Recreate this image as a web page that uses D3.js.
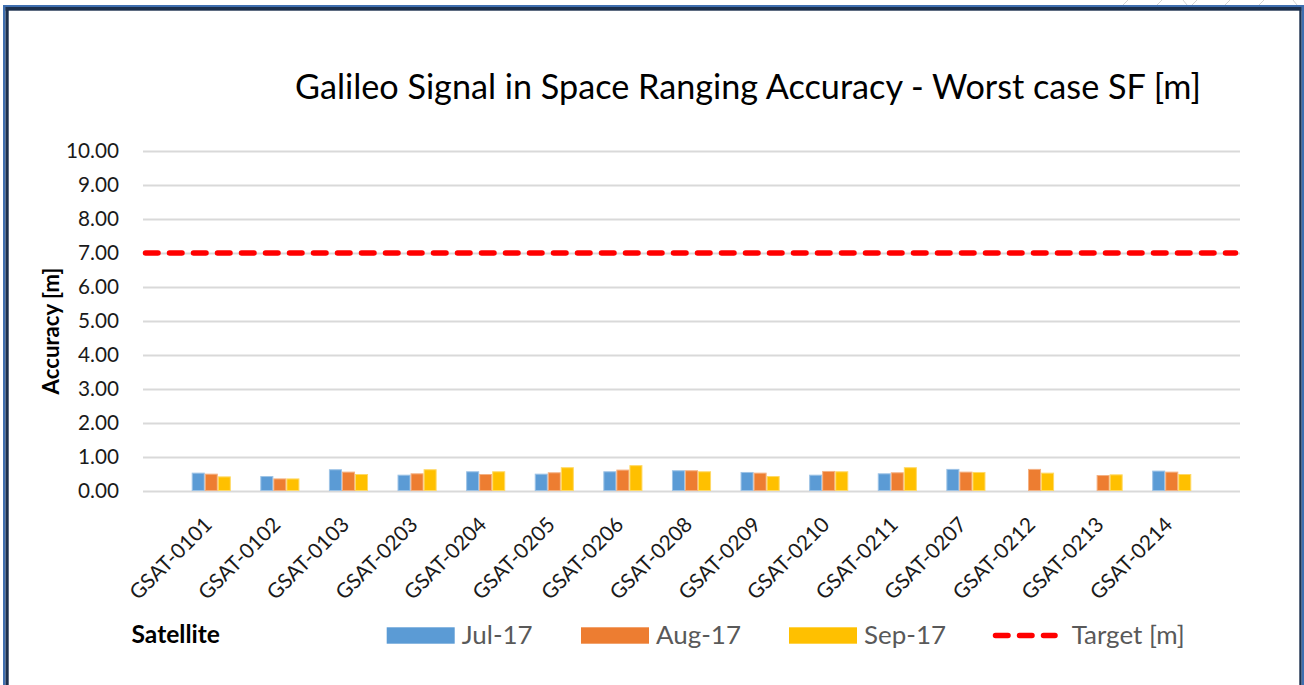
<!DOCTYPE html>
<html>
<head>
<meta charset="utf-8">
<script src="https://cdn.jsdelivr.net/npm/d3@7"></script>
<style>
  html, body { margin: 0; padding: 0; background: #ffffff; }
  svg { display: block; }
  text { font-family: Lato, "Open Sans", sans-serif; }
</style>
</head>
<body>
<svg id="chart" width="1304" height="685"></svg>
<script>
// ---------------- data ----------------
const categories = ["GSAT-0101","GSAT-0102","GSAT-0103","GSAT-0203","GSAT-0204","GSAT-0205","GSAT-0206","GSAT-0208","GSAT-0209","GSAT-0210","GSAT-0211","GSAT-0207","GSAT-0212","GSAT-0213","GSAT-0214"];
const seriesNames = ["Jul-17","Aug-17","Sep-17"];
const jul17 = [0.54,0.44,0.64,0.48,0.58,0.51,0.58,0.61,0.56,0.48,0.52,0.65,null,null,0.60];
const aug17 = [0.51,0.37,0.57,0.52,0.50,0.55,0.63,0.61,0.54,0.59,0.55,0.57,0.65,0.47,0.57];
const sep17 = [0.43,0.37,0.50,0.64,0.58,0.70,0.76,0.58,0.44,0.58,0.70,0.56,0.54,0.49,0.50];
const targetValue = 7.00;
const yTicks = [0,1,2,3,4,5,6,7,8,9,10];
const titleText = "Galileo Signal in Space Ranging Accuracy - Worst case SF [m]";
const yTitle = "Accuracy [m]";
const xTitle = "Satellite";
const targetLabel = "Target [m]";
const colors = ["#5b9bd5","#ed7d31","#ffc000"];
const edgeColors = ["#9dc3e6","#f4b183","#ffd966"];

// ---------------- setup ----------------
const svg = d3.select("#chart");
const plot = {left: 143, right: 1240, top: 151, bottom: 491};

const y = d3.scaleLinear().domain([0, 10]).range([plot.bottom, plot.top]);
const x = d3.scaleBand().domain(categories).range([plot.left, plot.right])
  .paddingInner(0.43).paddingOuter(0.71);
const xs = d3.scaleBand().domain(seriesNames).range([0, x.bandwidth()]);

function fitWidth(sel, target) {
  const w = sel.node().getComputedTextLength();
  const fs = parseFloat(sel.attr("font-size"));
  sel.attr("font-size", (fs * target / w).toFixed(2));
}

// ---------------- frame ----------------
const frame = svg.append("g");
frame.append("rect").attr("x", 3).attr("y", 5).attr("width", 2.5).attr("height", 680).attr("fill", "#3f6fb0");
frame.append("rect").attr("x", 5.5).attr("y", 7).attr("width", 3.2).attr("height", 678).attr("fill", "#1c304d");
frame.append("rect").attr("x", 3).attr("y", 5).attr("width", 1301).attr("height", 2).attr("fill", "#3f6fb0");
frame.append("rect").attr("x", 5.5).attr("y", 7).attr("width", 1296).attr("height", 3.7).attr("fill", "#1c304d");
frame.append("rect").attr("x", 1299.3).attr("y", 7).attr("width", 2.4).attr("height", 678).attr("fill", "#1c304d");
frame.append("rect").attr("x", 1301.7).attr("y", 5).attr("width", 2.3).attr("height", 680).attr("fill", "#3f6fb0");
// faint decorative strokes above frame
const deco = [[1123,5,1128,0],[1157,5,1162,0],[1183,0,1187,5],[1192,5,1197,0],[1225,5,1230,0],[1259,5,1264,0],[1293,0,1297,5]];
frame.selectAll("line.deco").data(deco).enter().append("line")
  .attr("x1", d => d[0]).attr("y1", d => d[1]).attr("x2", d => d[2]).attr("y2", d => d[3])
  .attr("stroke", "#d4d4d4").attr("stroke-width", 1);

// ---------------- title ----------------
const title = svg.append("text").attr("x", 748).attr("y", 99)
  .attr("text-anchor", "middle").attr("font-size", 34).attr("fill", "#000000")
  .text(titleText);
fitWidth(title, 906);

// ---------------- gridlines & y axis ----------------
const yAxis = d3.axisLeft(y).tickValues(yTicks).tickFormat(d3.format(".2f"))
  .tickSize(-(plot.right - plot.left)).tickPadding(24);
const gy = svg.append("g").attr("transform", `translate(${plot.left},0)`).call(yAxis);
gy.select(".domain").remove();
gy.selectAll(".tick line").attr("stroke", "#d9d9d9").attr("stroke-width", 2);
gy.selectAll(".tick text").attr("fill", "#1a1a1a").attr("font-size", 20)
  .attr("font-family", "Lato, sans-serif").attr("x", -24);
{
  const t = gy.selectAll(".tick text").filter(d => d === 10);
  const w = t.node().getComputedTextLength();
  const fs = 20 * 53 / w;
  gy.selectAll(".tick text").attr("font-size", fs.toFixed(2));
}

// ---------------- bars ----------------
const seriesData = [jul17, aug17, sep17];
const gBars = svg.append("g");
seriesData.forEach((vals, si) => {
  gBars.selectAll(`rect.s${si}`)
    .data(categories.map((c, i) => ({c, v: vals[i]})).filter(d => d.v != null))
    .enter().append("rect")
    .attr("class", `s${si}`)
    .attr("x", d => x(d.c) + xs(seriesNames[si]) + 0.5)
    .attr("y", d => y(d.v) + 0.5)
    .attr("width", xs.bandwidth() - 1)
    .attr("height", d => y(0) - y(d.v) - 1)
    .attr("fill", colors[si])
    .attr("stroke", edgeColors[si]).attr("stroke-width", 1);
});

// ---------------- target line ----------------
svg.append("line")
  .attr("x1", plot.left + 2.5).attr("x2", plot.right - 4.5)
  .attr("y1", y(targetValue)).attr("y2", y(targetValue))
  .attr("stroke", "#ff0000").attr("stroke-width", 5.5)
  .attr("stroke-linecap", "round").attr("stroke-dasharray", "12.5 11.5");

// ---------------- x labels ----------------
const xAxis = d3.axisBottom(x).tickSize(0).tickPadding(0);
const gx = svg.append("g").attr("transform", `translate(0,${plot.bottom})`).call(xAxis);
gx.select(".domain").remove();
gx.selectAll(".tick text")
  .attr("fill", "#1a1a1a").attr("font-size", 20).attr("font-family", "Lato, sans-serif")
  .attr("text-anchor", "end").attr("dy", null).attr("y", 0)
  .attr("transform", "translate(2,35) rotate(-45)");
{
  const t = gx.select(".tick text");
  const w = t.node().getComputedTextLength();
  gx.selectAll(".tick text").attr("font-size", (20 * 106 / w).toFixed(2));
}

// ---------------- axis titles ----------------
const yt = svg.append("text")
  .attr("transform", "translate(59,331) rotate(-90)")
  .attr("text-anchor", "middle").attr("font-weight", "bold").attr("font-size", 20)
  .attr("fill", "#000000").text(yTitle);
fitWidth(yt, 127);

const xt = svg.append("text").attr("x", 131.5).attr("y", 643)
  .attr("font-weight", "bold").attr("font-size", 20).attr("fill", "#000000").text(xTitle);
fitWidth(xt, 88.5);

// ---------------- legend ----------------
const legend = svg.append("g");
const legItems = [
  {name: seriesNames[0], type: "rect", color: colors[0], x0: 386.7},
  {name: seriesNames[1], type: "rect", color: colors[1], x0: 581},
  {name: seriesNames[2], type: "rect", color: colors[2], x0: 789},
  {name: targetLabel, type: "line", color: "#ff0000", x0: 993}
];
legItems.forEach(it => {
  if (it.type === "rect") {
    legend.append("rect").attr("x", it.x0).attr("y", 627.3).attr("width", 68).attr("height", 16.4)
      .attr("fill", it.color);
  } else {
    legend.append("line").attr("x1", it.x0 + 2.5).attr("x2", it.x0 + 62)
      .attr("y1", 635.5).attr("y2", 635.5)
      .attr("stroke", it.color).attr("stroke-width", 5.5)
      .attr("stroke-linecap", "round").attr("stroke-dasharray", "12.5 11.5");
  }
});
const legendTextX = [461.7, 656, 864, 1071.7];
const legTexts = legItems.map((it, i) => legend.append("text").attr("x", legendTextX[i]).attr("y", 643.5)
    .attr("font-size", 26).attr("fill", "#595959").text(it.name));
{
  const w = legTexts[1].node().getComputedTextLength();
  const fs = 26 * 85 / w;
  legTexts.forEach(t => t.attr("font-size", fs.toFixed(2)));
}
</script>
</body>
</html>
